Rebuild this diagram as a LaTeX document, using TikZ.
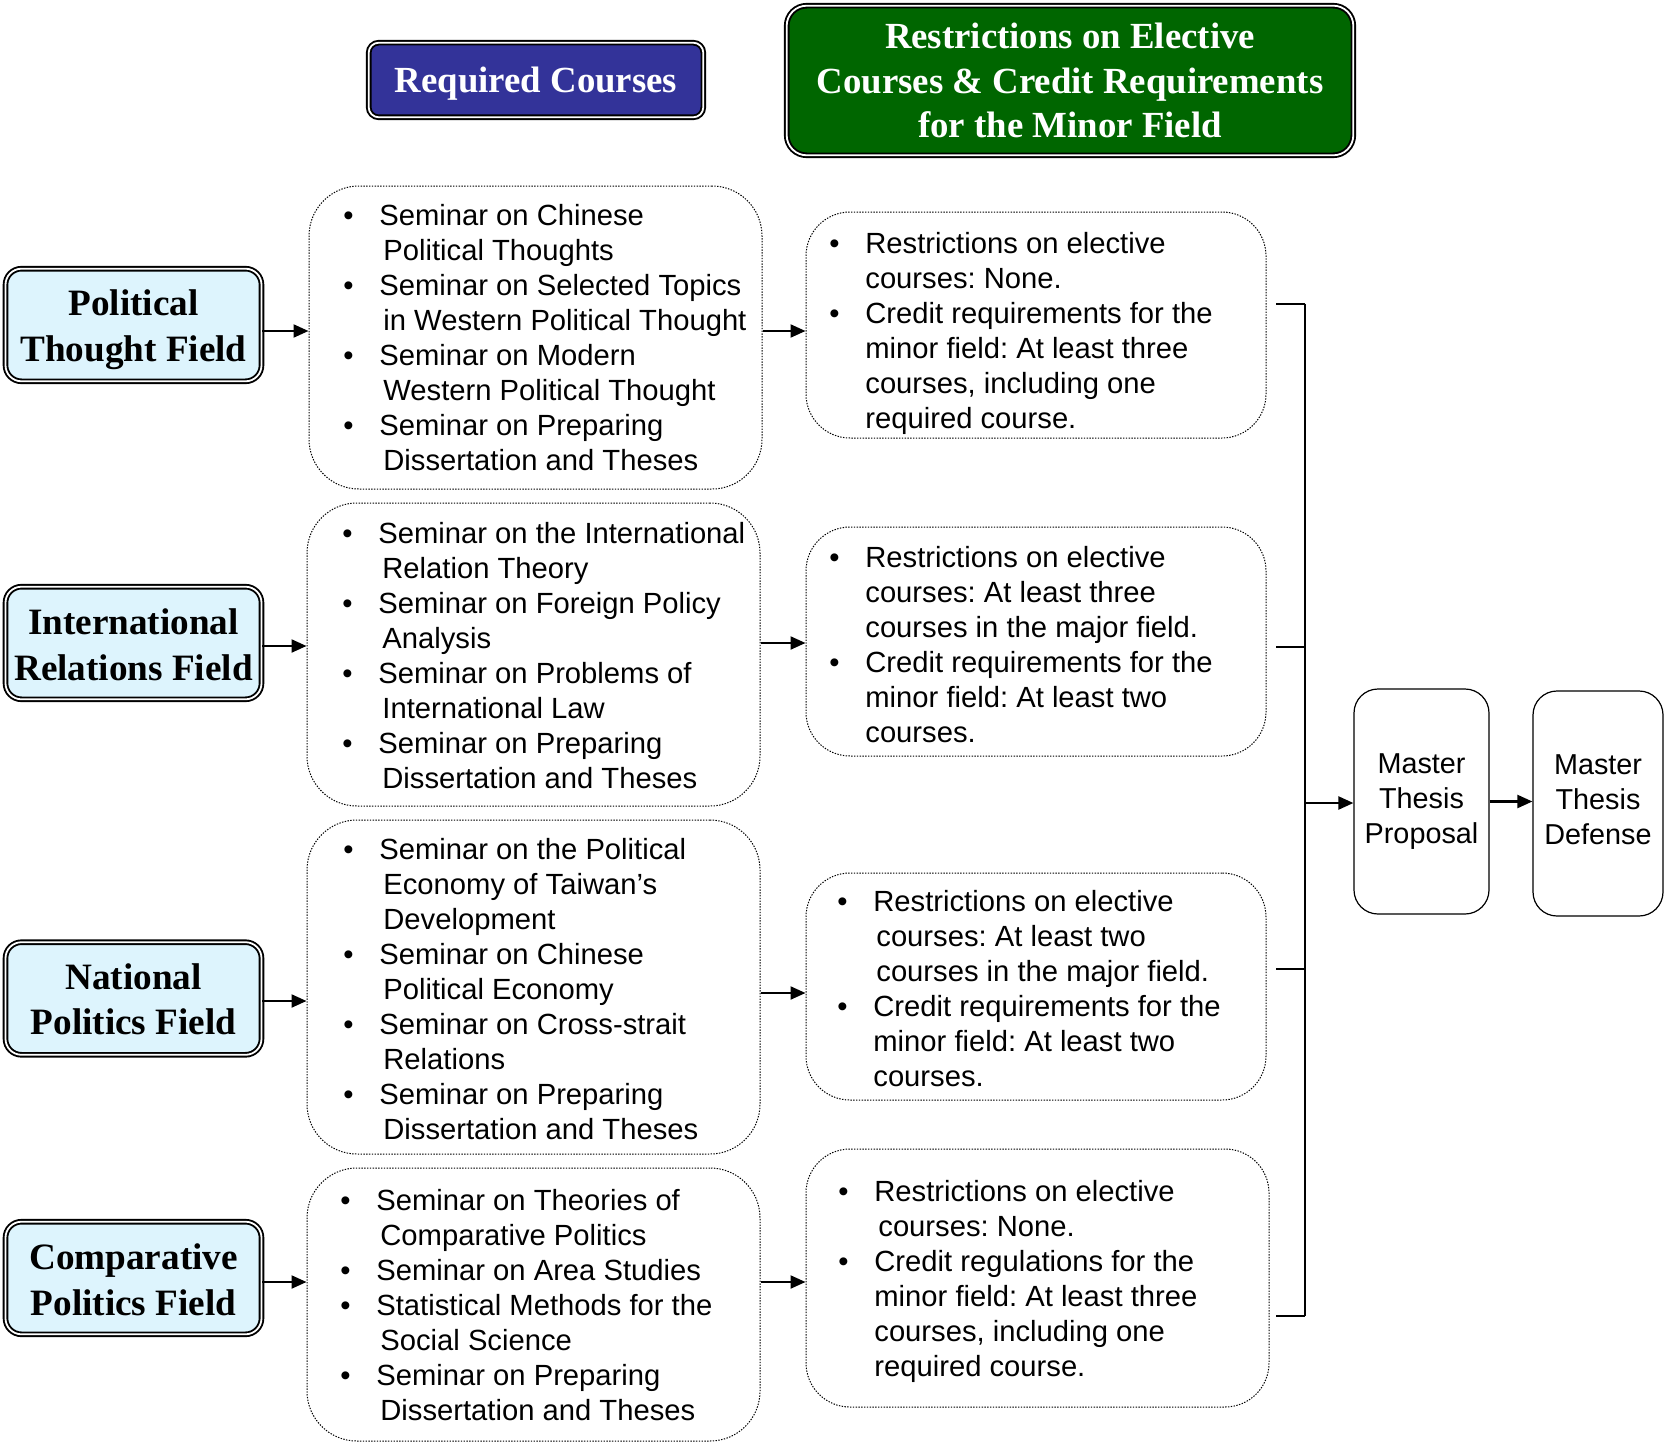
\documentclass[tikz,border=0pt]{standalone}
\usepackage{fontspec}
\setmainfont{Liberation Sans}
\newfontfamily\headfont{Liberation Serif}
\usetikzlibrary{arrows.meta}
\definecolor{hblue}{HTML}{333399}
\definecolor{hgreen}{HTML}{006600}
\definecolor{fblue}{HTML}{DDF4FD}
\frenchspacing
\newcommand{\bu}{\makebox[18pt][l]{•}}
\newcommand{\ci}[1][20pt]{\hspace*{#1}}
\newcommand{\lowr}[2]{\raisebox{-#1}[\height][\depth]{\begin{tabular}{@{}c@{}}#2\end{tabular}}}
\begin{document}
\begin{tikzpicture}[x=0.5pt,y=-0.5pt,
 dbl/.style={draw=black, line width=0.95pt, double=white, double distance=0.9pt},
 field/.style={dbl, fill=fblue, rounded corners=8pt, minimum width=128pt, minimum height=56.3pt, inner sep=0pt, align=center, font=\headfont\bfseries\fontsize{18.6}{22.8}\selectfont},
 head/.style={dbl, text=white, align=center, inner sep=0pt, font=\headfont\bfseries\fontsize{18.4}{22.3}\selectfont},
 cbox/.style={draw, line width=0.5pt, dash pattern=on 0.7pt off 0.7pt, rounded corners=25pt, inner sep=0pt},
 rbox/.style={cbox, rounded corners=22pt},
 btext/.style={anchor=west, align=left, inner sep=0pt, font=\fontsize{14.6}{17.5}\selectfont},
 mbox/.style={draw, line width=0.6pt, rounded corners=12pt, align=center, inner sep=0pt, minimum height=112.5pt, font=\fontsize{14.4}{17.5}\selectfont},
 arr/.style={line width=1.1pt, -{Triangle[length=7.5pt,width=6.5pt]}},
 br/.style={line width=1pt}
]
\useasboundingbox (0,0) rectangle (1664,1445);

% headers
\node[head, fill=hblue, rounded corners=5pt, minimum width=167.3pt, minimum height=37.3pt] (hreq) at (536,80) {\lowr{2pt}{Required Courses}};
\node[head, fill=hgreen, rounded corners=10pt, minimum width=283.3pt, minimum height=74.8pt] (hres) at (1070,80.5) {Restrictions on Elective\\Courses \& Credit Requirements\\for the Minor Field};

% field boxes
\node[field] (f1) at (133.5,325) {\lowr{2.3pt}{Political\\Thought Field}};
\node[field] (f2) at (133.5,643) {\lowr{2.65pt}{International\\Relations Field}};
\node[field] (f3) at (133.5,998.5) {\lowr{2.2pt}{National\\Politics Field}};
\node[field] (f4) at (133.5,1278) {\lowr{2.6pt}{Comparative\\Politics Field}};

% required course boxes
\node[cbox, minimum width=226.5pt, minimum height=151.5pt] (c1) at (535.5,337.5) {};
\node[cbox, minimum width=226.5pt, minimum height=151.5pt] (c2) at (533.5,654.5) {};
\node[cbox, minimum width=226.5pt, minimum height=167pt] (c3) at (533.5,987) {};
\node[cbox, minimum width=226.5pt, minimum height=136.5pt] (c4) at (533.5,1304.5) {};

\node[btext] (c1t) at (343,337.5) {\bu Seminar on Chinese\\ \ci Political Thoughts\\ \bu Seminar on Selected Topics\\ \ci in Western Political Thought\\ \bu Seminar on Modern\\ \ci Western Political Thought\\ \bu Seminar on Preparing\\ \ci Dissertation and Theses};
\node[btext] (c2t) at (342,655.5) {\bu Seminar on the International\\ \ci Relation Theory\\ \bu Seminar on Foreign Policy\\ \ci Analysis\\ \bu Seminar on Problems of\\ \ci International Law\\ \bu Seminar on Preparing\\ \ci Dissertation and Theses};
\node[btext] (c3t) at (343,989) {\bu Seminar on the Political\\ \ci Economy of Taiwan’s\\ \ci Development\\ \bu Seminar on Chinese\\ \ci Political Economy\\ \bu Seminar on Cross-strait\\ \ci Relations\\ \bu Seminar on Preparing\\ \ci Dissertation and Theses};
\node[btext] (c4t) at (340,1305.5) {\bu Seminar on Theories of\\ \ci Comparative Politics\\ \bu Seminar on Area Studies\\ \bu Statistical Methods for the\\ \ci Social Science\\ \bu Seminar on Preparing\\ \ci Dissertation and Theses};

% restriction boxes
\node[rbox, minimum width=230pt, minimum height=113pt] (r1) at (1036,325) {};
\node[rbox, minimum width=230pt, minimum height=114.5pt] (r2) at (1036,641.5) {};
\node[rbox, minimum width=230pt, minimum height=113.5pt] (r3) at (1036,986.5) {};
\node[rbox, minimum width=231.5pt, minimum height=129pt] (r4) at (1037.5,1278) {};

\node[btext] (r1t) at (829,333.8) {\bu Restrictions on elective\\ \ci[18pt]courses: None.\\ \bu Credit requirements for the\\ \ci[18pt]minor field: At least three\\ \ci[18pt]courses, including one\\ \ci[18pt]required course.};
\node[btext] (r2t) at (829,645) {\bu Restrictions on elective\\ \ci[18pt]courses: At least three\\ \ci[18pt]courses in the major field.\\ \bu Credit requirements for the\\ \ci[18pt]minor field: At least two\\ \ci[18pt]courses.};
\node[btext] (r3t) at (837,989) {\bu Restrictions on elective\\ \ci[19.5pt]courses: At least two\\ \ci[19.5pt]courses in the major field.\\ \bu Credit requirements for the\\ \ci[18pt]minor field: At least two\\ \ci[18pt]courses.};
\node[btext] (r4t) at (838,1281.5) {\bu Restrictions on elective\\ \ci[20pt]courses: None.\\ \bu Credit regulations for the\\ \ci[18pt]minor field: At least three\\ \ci[18pt]courses, including one\\ \ci[18pt]required course.};

% master boxes
\node[mbox, minimum width=67.5pt] (mp) at (1421.5,801.5) {Master\\Thesis\\Proposal};
\node[mbox, minimum width=65pt] (md) at (1598,803.5) {\lowr{-0.45pt}{Master\\Thesis\\Defense}};

% helper coordinates
\coordinate (a1) at (0,331);
\coordinate (a2) at (0,646);
\coordinate (a3) at (0,1001);
\coordinate (a4) at (0,1282);
\coordinate (b1) at (0,331);
\coordinate (b2) at (0,643);
\coordinate (b3) at (0,993);
\coordinate (b4) at (0,1282);
\coordinate (s1) at (0,303.5);
\coordinate (s2) at (0,647);
\coordinate (s3) at (0,969);
\coordinate (s4) at (0,1316);
\coordinate (bs) at (1276,0);
\coordinate (bx) at (1305,0);
\coordinate (m1) at (0,803);

% arrows field -> courses
\draw[arr] (f1.east |- a1) -- (c1.west |- a1);
\draw[arr] (f2.east |- a2) -- (c2.west |- a2);
\draw[arr] (f3.east |- a3) -- (c3.west |- a3);
\draw[arr] (f4.east |- a4) -- (c4.west |- a4);

% arrows courses -> restrictions
\draw[arr] (c1.east |- b1) -- (r1.west |- b1);
\draw[arr] (c2.east |- b2) -- (r2.west |- b2);
\draw[arr] (c3.east |- b3) -- (r3.west |- b3);
\draw[arr] (c4.east |- b4) -- (r4.west |- b4);

% bracket
\draw[br] (bs |- s1) -- (bx |- s1);
\draw[br] (bs |- s2) -- (bx |- s2);
\draw[br] (bs |- s3) -- (bx |- s3);
\draw[br] (bs |- s4) -- (bx |- s4);
\draw[br] (bx |- s1) -- (bx |- s4);
\draw[arr] (bx |- m1) -- (mp.west |- m1);
\draw[arr] (mp.east) -- (mp.east -| md.west);
\end{tikzpicture}
\end{document}
